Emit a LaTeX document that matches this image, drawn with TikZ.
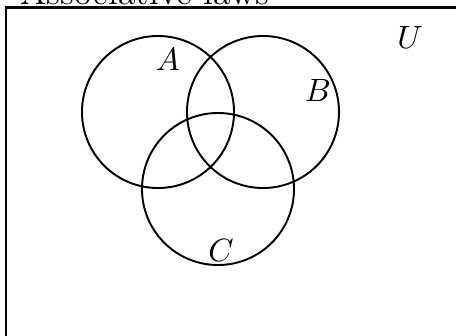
\documentclass[tikz,border=0pt]{standalone}
\begin{document}
\begin{tikzpicture}[x=0.3106pt,y=-0.3106pt,
  setcircle/.style={draw=black,line width=0.6pt},
  frame/.style={draw=black,line width=0.7pt},
  setlabel/.style={inner sep=0pt,anchor=base,font=\fontsize{10}{12}\selectfont}]
\useasboundingbox (0,0) rectangle (456,335);
\clip (0,0) rectangle (456,335);
\node[inner sep=0pt,anchor=base west,font=\fontsize{11.1}{13}\selectfont] (title) at (20,4) {Associative laws};
\draw[frame] (6,7.5) rectangle (480,360);
\draw[setcircle] (158,112) circle [radius=23.61pt];
\draw[setcircle] (263,112) circle [radius=23.61pt];
\draw[setcircle] (218,189) circle [radius=23.61pt];
\node[setlabel] (labA) at (168,70) {$A$};
\node[setlabel] (labB) at (318,101.5) {$B$};
\node[setlabel] (labC) at (221,261) {$C$};
\node[setlabel] (labU) at (410,48) {$U$};
\end{tikzpicture}
\end{document}
